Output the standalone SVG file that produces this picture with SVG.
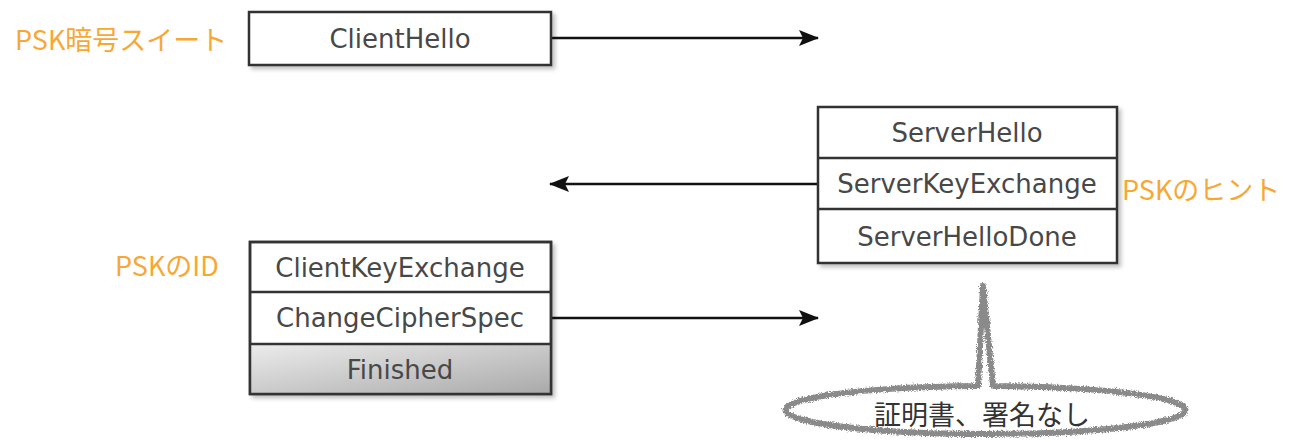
<svg xmlns="http://www.w3.org/2000/svg" width="1293" height="442" viewBox="0 0 1293 442">
<defs>
<style>
.box{fill:#fff;stroke:#333;stroke-width:2.5;}
.div{stroke:#333;stroke-width:2.5;}
.t{font-family:"DejaVu Sans",Verdana,sans-serif;font-size:26px;fill:#484848;text-anchor:middle;dominant-baseline:central;}
.o{font-family:"Noto Sans CJK JP","Noto Sans",sans-serif;font-size:27px;fill:#f7a834;dominant-baseline:central;}
.ln{stroke:#111;stroke-width:2.5;fill:none;}
.call{fill:#fff;stroke:#8a8a8a;stroke-width:6;stroke-linejoin:round;}
.ct{font-family:"Noto Sans CJK JP",sans-serif;font-size:27px;fill:#333;text-anchor:middle;dominant-baseline:central;}
</style>
<marker id="ah" markerWidth="20" markerHeight="16" refX="19" refY="8" orient="auto" markerUnits="userSpaceOnUse">
<path d="M0,0 L20,8 L0,16 L4,8 Z" fill="#111"/>
</marker>
<filter id="sh" x="-5%" y="-10%" width="115%" height="130%">
<feGaussianBlur in="SourceAlpha" stdDeviation="2"/>
<feOffset dx="3" dy="3" result="b"/>
<feComponentTransfer><feFuncA type="linear" slope="0.25"/></feComponentTransfer>
<feMerge><feMergeNode/><feMergeNode in="SourceGraphic"/></feMerge>
</filter>
<filter id="rough" x="-5%" y="-10%" width="110%" height="120%">
<feTurbulence type="fractalNoise" baseFrequency="1.2" numOctaves="2" seed="3"/>
<feDisplacementMap in="SourceGraphic" scale="5" xChannelSelector="R" yChannelSelector="G"/>
</filter>
<linearGradient id="gf" x1="0" y1="0" x2="1" y2="1">
<stop offset="0" stop-color="#ececec"/>
<stop offset="1" stop-color="#a9a9a9"/>
</linearGradient>
</defs>

<g id="connectors">
<line class="ln" x1="551" y1="38" x2="818" y2="38" marker-end="url(#ah)"/>
<line class="ln" x1="818" y1="184" x2="550" y2="184" marker-end="url(#ah)"/>
<line class="ln" x1="551" y1="318" x2="818" y2="318" marker-end="url(#ah)"/>
</g>

<g id="label-psk-suite"><text class="o" x="15" y="38">PSK暗号スイート</text></g>

<g id="client-hello">
<rect class="box" x="249" y="12" width="302" height="53" filter="url(#sh)"/>
<text class="t" x="400" y="39">ClientHello</text>
</g>

<g id="server-group">
<rect class="box" x="818" y="107" width="299" height="156" filter="url(#sh)"/>
<line class="div" x1="818" y1="158" x2="1117" y2="158"/>
<line class="div" x1="818" y1="209" x2="1117" y2="209"/>
<text class="t" x="967" y="133">ServerHello</text>
<text class="t" x="967" y="184">ServerKeyExchange</text>
<text class="t" x="967" y="237">ServerHelloDone</text>
</g>

<g id="label-psk-hint"><text class="o" x="1122" y="188">PSKのヒント</text></g>

<g id="label-psk-id"><text class="o" x="115" y="264">PSKのID</text></g>

<g id="client-group">
<rect class="box" x="250" y="242" width="301" height="152" filter="url(#sh)"/>
<rect x="250" y="344" width="301" height="50" fill="url(#gf)"/>
<rect x="250" y="242" width="301" height="152" fill="none" stroke="#333" stroke-width="2.5"/>
<line class="div" x1="250" y1="292" x2="551" y2="292"/>
<line class="div" x1="250" y1="344" x2="551" y2="344"/>
<text class="t" x="400" y="268">ClientKeyExchange</text>
<text class="t" x="400" y="318">ChangeCipherSpec</text>
<text class="t" x="400" y="370">Finished</text>
</g>

<g id="callout">
<path class="call" filter="url(#rough)" d="M978 386 L983 286 L993 386 A200 24 0 1 1 978 386 Z"/>
<text class="ct" x="982" y="413">証明書、署名なし</text>
</g>
</svg>
